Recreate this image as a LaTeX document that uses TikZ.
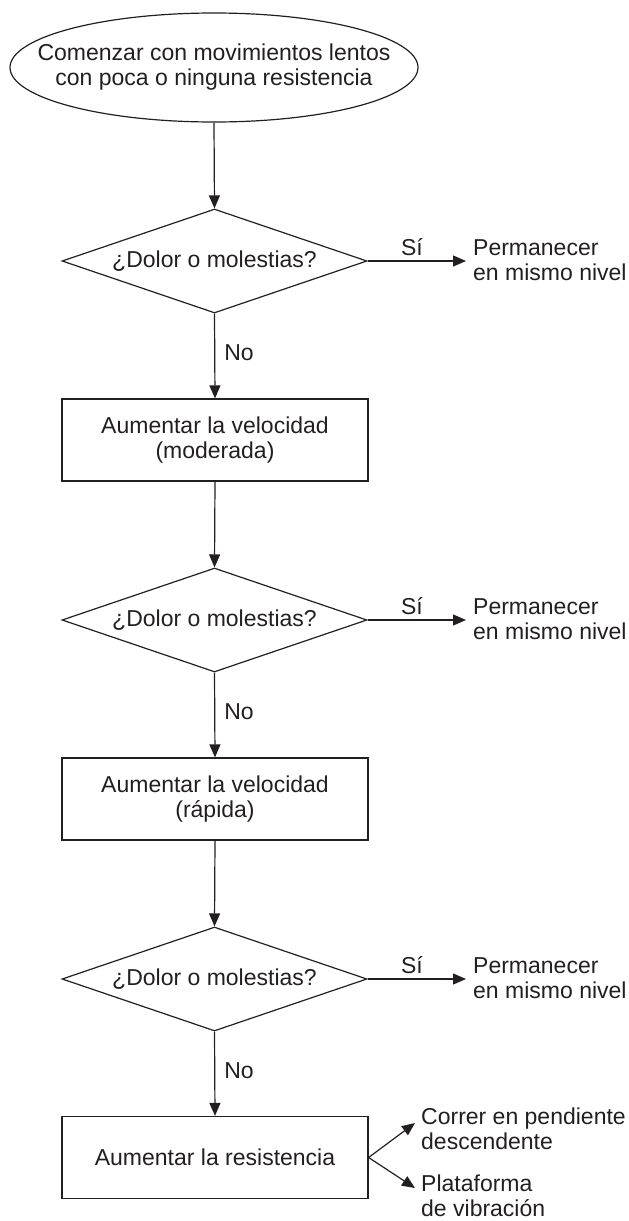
\documentclass[tikz,border=0pt]{standalone}
\usepackage{fontspec}
\setmainfont{Liberation Sans}
\usetikzlibrary{shapes.geometric,arrows.meta}
\definecolor{ink}{RGB}{35,31,32}
\begin{document}
\begin{tikzpicture}[x=1pt,y=-1pt,
  every node/.style={font=\fontsize{23}{25}\selectfont, text=ink},
  line/.style={draw=ink, line width=1.2pt},
  arr/.style={line, -{Triangle[length=13pt,width=11pt]}},
  boxnode/.style={draw=ink, line width=1.2pt, rectangle, minimum width=306pt, minimum height=82pt, inner sep=0pt, align=center},
  decision/.style={draw=ink, line width=1.2pt, diamond, aspect=2.93, minimum width=305pt, minimum height=104pt, inner sep=0pt},
  startnode/.style={draw=ink, line width=1.2pt, ellipse, minimum width=408pt, minimum height=109pt, inner sep=0pt},
  lbl/.style={inner sep=0pt},
  side/.style={inner sep=0pt, align=left, anchor=west}
]
\useasboundingbox (0,0) rectangle (629,1221);
% main column
\node[startnode] (s) at (214,67.5) {};
\node[align=center, inner sep=0pt] (st) at (s.center) {Comenzar con movimientos lentos\\con poca o ninguna resistencia};
\node[decision] (d1) at (214.5,261) {¿Dolor o molestias?};
\node[boxnode] (b1) at (215,440) {Aumentar la velocidad\\(moderada)};
\node[decision] (d2) at (214.5,620) {¿Dolor o molestias?};
\node[boxnode] (b2) at (215,799) {Aumentar la velocidad\\(rápida)};
\node[decision] (d3) at (214.5,979) {¿Dolor o molestias?};
\node[boxnode] (b3) at (215,1157.5) {Aumentar la resistencia};
% side texts
\node[side] (p1) at (473,260) {Permanecer\\en mismo nivel};
\node[side] (p2) at (473,619) {Permanecer\\en mismo nivel};
\node[side] (p3) at (473,978) {Permanecer\\en mismo nivel};
\node[side] (c1) at (421,1129) {Correr en pendiente\\descendente};
\node[side] (c2) at (421,1196) {Plataforma\\de vibración};
\coordinate (t1) at (415,1123);
\coordinate (t2) at (415,1188);
% connectors
\draw[arr] (s.south) -- (d1.north);
\draw[arr] (d1.south) -- node[lbl, anchor=west, xshift=9pt, pos=0.46] {No} (b1.north);
\draw[arr] (b1.south) -- (d2.north);
\draw[arr] (d2.south) -- node[lbl, anchor=west, xshift=9pt, pos=0.46] {No} (b2.north);
\draw[arr] (b2.south) -- (d3.north);
\draw[arr] (d3.south) -- node[lbl, anchor=west, xshift=9pt, pos=0.46] {No} (b3.north);
\draw[arr, shorten >=7pt] (d1.east) -- node[lbl, anchor=south, yshift=5pt, pos=0.42] {Sí} (d1.east -| p1.west);
\draw[arr, shorten >=7pt] (d2.east) -- node[lbl, anchor=south, yshift=5pt, pos=0.42] {Sí} (d2.east -| p2.west);
\draw[arr, shorten >=7pt] (d3.east) -- node[lbl, anchor=south, yshift=5pt, pos=0.42] {Sí} (d3.east -| p3.west);
\draw[arr] (b3.east) -- (t1);
\draw[arr] (b3.east) -- (t2);
\end{tikzpicture}
\end{document}
